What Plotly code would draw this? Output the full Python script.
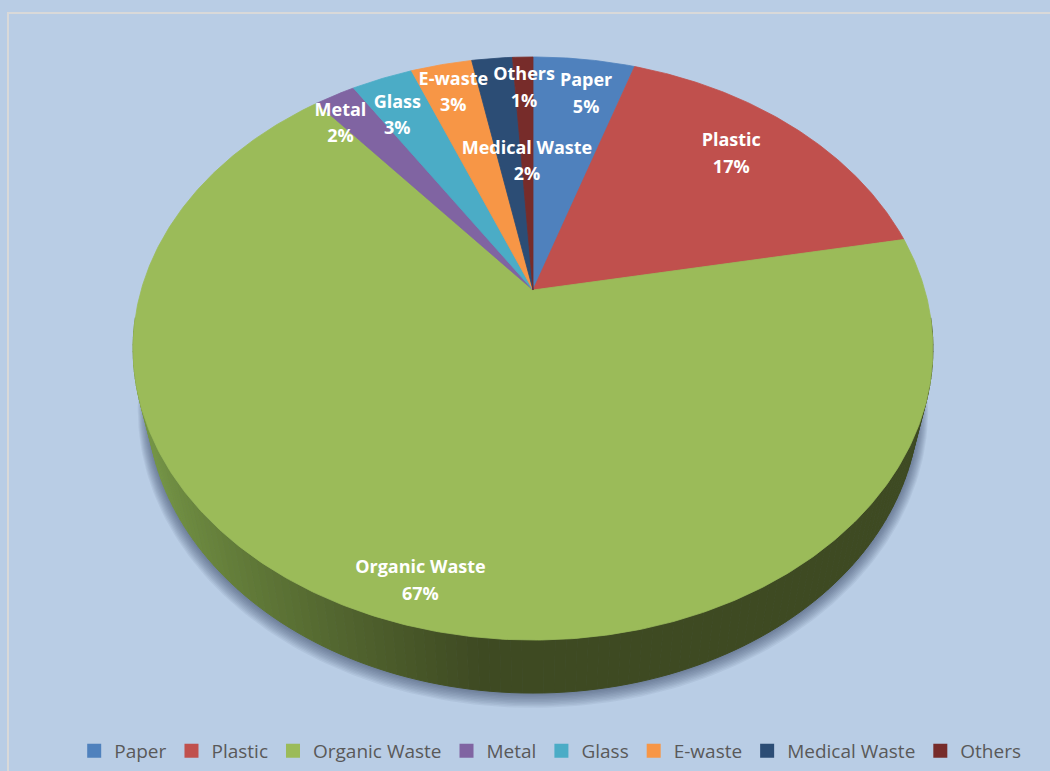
import numpy as np
import plotly.graph_objects as go

# Waste composition (percent of total)
categories = ["Paper", "Plastic", "Organic Waste", "Metal", "Glass",
              "E-waste", "Medical Waste", "Others"]
shares = [5, 17, 67, 2, 3, 3, 2, 1]
colors = ["#4F81BD", "#C0504D", "#9BBB59", "#8064A2", "#4BACC6",
          "#F79646", "#2C4D75", "#772C2A"]

# Data-label placement on the pie face: radial fraction and angular nudge (deg)
label_radius = [0.835, 0.78, 0.89, 0.88, 0.82, 0.86, 0.51, 0.85]
label_nudge = [1.9, -2.6, -4.3, -3.4, -1.9, 0.2, 5.3, 0.0]

# Tilted-disc geometry (plot units = pixels)
CX, CY = 533.0, 290.0      # projected centre of the top face
RX, RY = 391.8, 279.8      # horizontal / depth radii
PERSP = 0.2007             # perspective strength
DEPTH = 53.0               # visible thickness of the disc
BOTTOM_SHRINK = 0.965      # lower rim sits farther away, so it looks narrower
LINE_GAP = 13.3            # half distance between the two label lines
TEXT_DROP = 2.0            # baseline correction for label text
BG = "#B9CDE5"


def project(theta_deg, frac=1.0):
    """Map angle (clockwise from 12 o'clock) and radial fraction onto the top face."""
    th = np.radians(theta_deg)
    u = frac * np.sin(th)
    v = frac * np.cos(th)
    w = 1.0 + PERSP * v
    return CX + RX * u / w, CY - RY * v / w


def project_bottom(theta_deg):
    """Rim of the lower face of the disc."""
    x, y = project(theta_deg)
    return CX + (x - CX) * BOTTOM_SHRINK, y + DEPTH


def mix(c1, c2, t):
    a = [int(c1[i:i + 2], 16) for i in (1, 3, 5)]
    b = [int(c2[i:i + 2], 16) for i in (1, 3, 5)]
    return "rgb({},{},{})".format(*[round(a[k] + (b[k] - a[k]) * t) for k in range(3)])


total = float(sum(shares))
bounds = np.concatenate([[0.0], np.cumsum(shares)]) / total * 360.0

fig = go.Figure()

# soft drop shadow under the disc
ring = np.linspace(0, 360, 361)
bx, by = project_bottom(ring)
bcy = CY + DEPTH + 58
for i in range(10):
    s = 1.0 + 0.0024 * (i + 1)
    fig.add_trace(go.Scatter(
        x=CX + (bx - CX) * s, y=bcy + (by - bcy) * s + 1.0 + 0.75 * i,
        mode="lines", fill="toself", line=dict(width=0),
        fillcolor="rgba(40,60,95,0.065)", hoverinfo="skip", showlegend=False))

# side wall of the disc (front arc), shaded from left to right
t0 = np.degrees(np.arccos(-PERSP)) - 6
t1 = 360.0 - t0
edges = np.linspace(t0, t1, 131)
side_light, side_dark = "#759545", "#3E4A22"
for a, b in zip(edges[:-1], edges[1:]):
    seg = np.linspace(a, b, 4)
    xt, yt = project(seg)
    xb, yb = project_bottom(seg[::-1])
    xm = project((a + b) / 2)[0]
    t = np.clip((xm - 150.0) / 330.0, 0, 1) ** 0.8
    c = mix(side_light, side_dark, t)
    fig.add_trace(go.Scatter(
        x=np.concatenate([xt, xb]), y=np.concatenate([yt, yb]),
        mode="lines", fill="toself", line=dict(color=c, width=1),
        fillcolor=c, hoverinfo="skip", showlegend=False))

# top face slices
for i, cat in enumerate(categories):
    a, b = bounds[i], bounds[i + 1]
    arc = np.linspace(a, b, max(8, int((b - a) * 2)))
    ax_, ay_ = project(arc)
    fig.add_trace(go.Scatter(
        x=np.concatenate([[CX], ax_, [CX]]), y=np.concatenate([[CY], ay_, [CY]]),
        mode="lines", fill="toself", line=dict(color=colors[i], width=0.8),
        fillcolor=colors[i], name=cat, showlegend=False,
        hovertemplate=f"{cat}: {shares[i]}%<extra></extra>"))

# data labels: category name above, percentage below
lx, ly = [], []
for i in range(len(categories)):
    mid = (bounds[i] + bounds[i + 1]) / 2 + label_nudge[i]
    x, y = project(mid, label_radius[i])
    lx.append(float(x))
    ly.append(float(y) + TEXT_DROP)
pct_text = [f"{round(100 * s / total)}%" for s in shares]
label_font = dict(family="Open Sans", size=18, color="white", weight="bold")
fig.add_trace(go.Scatter(
    x=lx, y=[y - LINE_GAP for y in ly], text=categories, mode="text",
    textposition="middle center", textfont=label_font,
    hoverinfo="skip", showlegend=False))
fig.add_trace(go.Scatter(
    x=lx, y=[y + LINE_GAP for y in ly], text=pct_text, mode="text",
    textposition="middle center", textfont=label_font,
    hoverinfo="skip", showlegend=False))

# legend entries
for cat, col in zip(categories, colors):
    fig.add_trace(go.Scatter(
        x=[None], y=[None], mode="markers", name=cat,
        marker=dict(symbol="square", size=14, color=col)))

fig.update_layout(
    width=1050, height=771,
    margin=dict(l=0, r=0, t=0, b=0),
    paper_bgcolor=BG, plot_bgcolor=BG,
    xaxis=dict(range=[0, 1050], visible=False, fixedrange=True),
    yaxis=dict(range=[771, 0], visible=False, fixedrange=True),
    showlegend=True,
    legend=dict(orientation="h", x=0.524, xanchor="center", y=0.026, yanchor="middle",
                font=dict(family="Open Sans", size=19, color="#595959"),
                bgcolor="rgba(0,0,0,0)", itemwidth=30, traceorder="normal"),
    shapes=[dict(type="rect", xref="x", yref="y", x0=8, y0=13, x1=1100, y1=820,
                 line=dict(color="#D9D9D9", width=2), layer="below")],
)

fig.write_html("out.html")
